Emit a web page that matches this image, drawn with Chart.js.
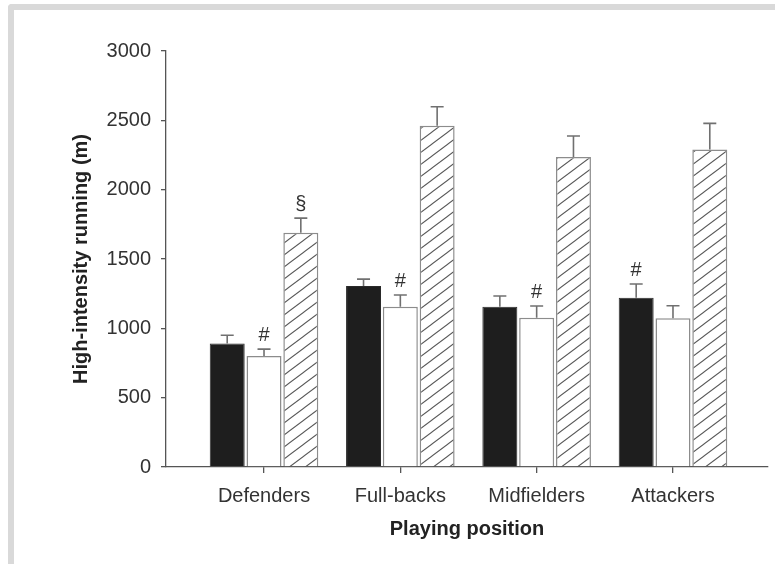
<!DOCTYPE html>
<html><head><meta charset="utf-8">
<script src="https://cdn.jsdelivr.net/npm/chart.js@4.4.1/dist/chart.umd.min.js"></script>
<style>
html,body{margin:0;padding:0;background:#fff;width:775px;height:564px;overflow:hidden;}
#frame{position:absolute;left:8px;top:4px;width:767px;height:560px;border-left:6px solid #d9d9d9;border-top:6px solid #d9d9d9;border-top-left-radius:4px;box-sizing:border-box;}
#wrap{position:absolute;left:0;top:0;width:775px;height:564px;}
</style></head><body>
<div id="frame"></div>
<div id="wrap"><canvas id="c" width="775" height="564"></canvas></div>
<script>
const categories = ['Defenders', 'Full-backs', 'Midfielders', 'Attackers'];
const seriesNames = ['First half', 'Second half', 'Whole match'];
const firstHalf = [890, 1305, 1156, 1221];
const firstHalfSD = [60, 50, 77, 99];
const secondHalf = [800, 1156, 1077, 1072];
const secondHalfSD = [50, 84, 84, 91];
const wholeMatch = [1690, 2461, 2236, 2290];
const wholeMatchSD = [105, 137, 151, 188];
const firstHalfMarks = ['', '', '', '#'];
const secondHalfMarks = ['#', '#', '#', ''];
const wholeMatchMarks = ['\u00a7', '', '', ''];
const yTickValues = [0, 500, 1000, 1500, 2000, 2500, 3000];
const xAxisTitle = 'Playing position';
const yAxisTitle = 'High-intensity running (m)';

const FONT = '"Liberation Sans", Arial, Helvetica, sans-serif';

function hatchPattern() {
  const c = document.createElement('canvas');
  c.width = 16; c.height = 12;
  const g = c.getContext('2d');
  g.fillStyle = '#ffffff';
  g.fillRect(0, 0, 16, 12);
  g.strokeStyle = '#5a5a5a';
  g.lineWidth = 1.1;
  g.beginPath();
  [-12, 0, 12].forEach(o => { g.moveTo(-4, 12 + o + 3); g.lineTo(20, o - 3); });
  g.stroke();
  return g.createPattern(c, 'repeat');
}

function toPoints(arr) { return arr.map((v, i) => ({ x: i + 1, y: v })); }

const errorPlugin = {
  id: 'errorBars',
  afterDatasetsDraw(chart) {
    const ctx = chart.ctx;
    const yScale = chart.scales.y;
    chart.data.datasets.forEach((ds, di) => {
      const meta = chart.getDatasetMeta(di);
      meta.data.forEach((bar, i) => {
        const v = ds.data[i].y;
        const e = ds.errors[i];
        const yTop = yScale.getPixelForValue(v + e);
        ctx.save();
        ctx.strokeStyle = '#707070';
        ctx.lineWidth = 1.6;
        ctx.beginPath();
        ctx.moveTo(bar.x, bar.y);
        ctx.lineTo(bar.x, yTop);
        ctx.moveTo(bar.x - 6.5, yTop);
        ctx.lineTo(bar.x + 6.5, yTop);
        ctx.stroke();
        const m = ds.marks[i];
        if (m) {
          ctx.fillStyle = '#333';
          ctx.font = '20px ' + FONT;
          ctx.textAlign = 'center';
          ctx.textBaseline = 'alphabetic';
          ctx.fillText(m, bar.x, yTop - 8);
        }
        ctx.restore();
      });
    });
  }
};

const ctx = document.getElementById('c').getContext('2d');
new Chart(ctx, {
  type: 'bar',
  data: {
    datasets: [
      { label: seriesNames[0], data: toPoints(firstHalf), errors: firstHalfSD, marks: firstHalfMarks,
        backgroundColor: '#1e1e1e', borderColor: '#2a2a2a', borderWidth: 1 },
      { label: seriesNames[1], data: toPoints(secondHalf), errors: secondHalfSD, marks: secondHalfMarks,
        backgroundColor: '#ffffff', borderColor: '#8c8c8c', borderWidth: 1.5 },
      { label: seriesNames[2], data: toPoints(wholeMatch), errors: wholeMatchSD, marks: wholeMatchMarks,
        backgroundColor: hatchPattern(), borderColor: '#8c8c8c', borderWidth: 1.5 }
    ]
  },
  options: {
    responsive: false,
    animation: false,
    devicePixelRatio: 1,
    categoryPercentage: 0.81,
    barPercentage: 0.95,
    layout: { padding: { left: 0, top: 51, right: 7, bottom: 0 } },
    plugins: { legend: { display: false }, tooltip: { enabled: false } },
    scales: {
      x: {
        type: 'linear',
        min: 0.281,
        max: 4.697,
        offset: false,
        afterBuildTicks: s => { s.ticks = categories.map((c, i) => ({ value: i + 1 })); },
        afterFit: s => { s.height = 97; },
        border: { display: true, color: '#555', width: 1.3 },
        grid: { display: true, drawOnChartArea: false, drawTicks: true, tickLength: 6, color: '#555', offset: false, lineWidth: 1.3 },
        ticks: {
          autoSkip: false, maxRotation: 0, padding: 11,
          color: '#333', font: { family: FONT, size: 20 },
          callback: v => categories[Math.round(v) - 1] || ''
        },
        title: { display: true, text: xAxisTitle, color: '#222',
          font: { family: FONT, size: 20, weight: 'bold' }, padding: { top: 0, bottom: 23 } }
      },
      y: {
        min: 0, max: 3000,
        afterBuildTicks: s => { s.ticks = yTickValues.map(v => ({ value: v })); },
        afterFit: s => { s.width = 166; },
        border: { display: true, color: '#555', width: 1.3 },
        grid: { display: true, drawOnChartArea: false, drawTicks: true, tickLength: 5, color: '#555', lineWidth: 1.3 },
        ticks: { padding: 10, color: '#333', font: { family: FONT, size: 20 },
          callback: v => String(v) },
        title: { display: true, text: yAxisTitle, color: '#222',
          font: { family: FONT, size: 20, weight: 'bold' }, padding: { top: 69, bottom: 0 } }
      }
    }
  },
  plugins: [errorPlugin]
});
</script>
</body></html>
